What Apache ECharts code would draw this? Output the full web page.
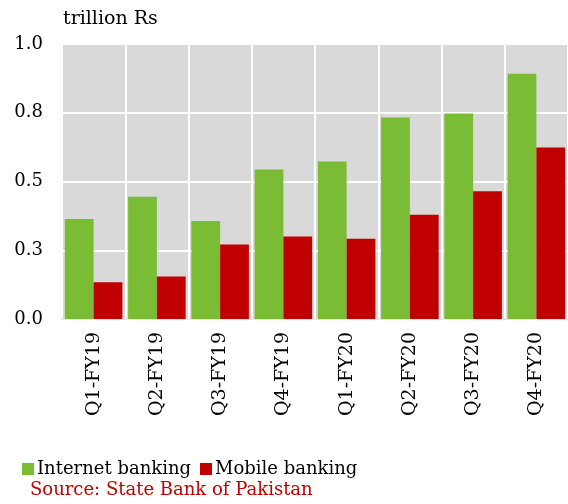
<!DOCTYPE html>
<html>
<head>
<meta charset="utf-8">
<script src="https://cdn.jsdelivr.net/npm/echarts@6/dist/echarts.min.js"></script>
<style>
  html, body { margin: 0; padding: 0; background: #ffffff; }
  #chart { width: 568px; height: 504px; }
</style>
</head>
<body>
<div id="chart"></div>
<script>
// Quarterly digital banking transaction values (trillion Rs)
const quarters = ['Q1-FY19', 'Q2-FY19', 'Q3-FY19', 'Q4-FY19', 'Q1-FY20', 'Q2-FY20', 'Q3-FY20', 'Q4-FY20'];
const internetBanking = [0.364, 0.445, 0.356, 0.544, 0.573, 0.733, 0.747, 0.892];
const mobileBanking = [0.134, 0.155, 0.271, 0.300, 0.292, 0.379, 0.465, 0.624];

const FONT = '"DejaVu Serif", serif';
const chart = echarts.init(document.getElementById('chart'), null, { renderer: 'canvas' });

chart.setOption({
  animation: false,
  backgroundColor: '#ffffff',
  grid: {
    left: 62, top: 44, width: 510, height: 275,
    show: true, backgroundColor: '#d9d9d9', borderWidth: 0
  },
  xAxis: {
    type: 'category',
    data: quarters,
    axisLine: { show: true, lineStyle: { color: '#e6e6e6', width: 2 } },
    axisTick: { show: false },
    splitLine: { show: true, lineStyle: { color: '#ffffff', width: 2 } },
    axisLabel: {
      rotate: 90, margin: 13, interval: 0,
      fontFamily: FONT, fontSize: 19, color: '#000000'
    }
  },
  yAxis: {
    type: 'value',
    min: 0, max: 1, interval: 0.25,
    axisLine: { show: false },
    axisTick: { show: false },
    splitLine: { show: true, lineStyle: { color: '#ffffff', width: 2 } },
    axisLabel: {
      margin: 19, fontFamily: FONT, fontSize: 18, color: '#000000',
      formatter: v => v.toFixed(1)
    }
  },
  legend: {
    left: 17, top: 455,
    itemWidth: 12, itemHeight: 12, itemGap: 9,
    icon: 'rect',
    textStyle: { fontFamily: FONT, fontSize: 18, color: '#000000', padding: [0, 0, 0, -2] },
    data: ['Internet banking', 'Mobile banking']
  },
  graphic: [
    {
      type: 'text', left: 63, top: 10,
      style: { text: 'trillion Rs', font: '19px "DejaVu Serif", serif', fill: '#000000' }
    },
    {
      type: 'text', left: 30, top: 481,
      style: { text: 'Source: State Bank of Pakistan', font: '18px "DejaVu Serif", serif', fill: '#c00000' }
    }
  ],
  series: [
    {
      name: 'Internet banking', type: 'bar', data: internetBanking,
      barGap: 0, barCategoryGap: '9%',
      itemStyle: { color: '#7abd34' }
    },
    {
      name: 'Mobile banking', type: 'bar', data: mobileBanking,
      barGap: 0, barCategoryGap: '9%',
      itemStyle: { color: '#c00000' }
    }
  ]
});
</script>
</body>
</html>
